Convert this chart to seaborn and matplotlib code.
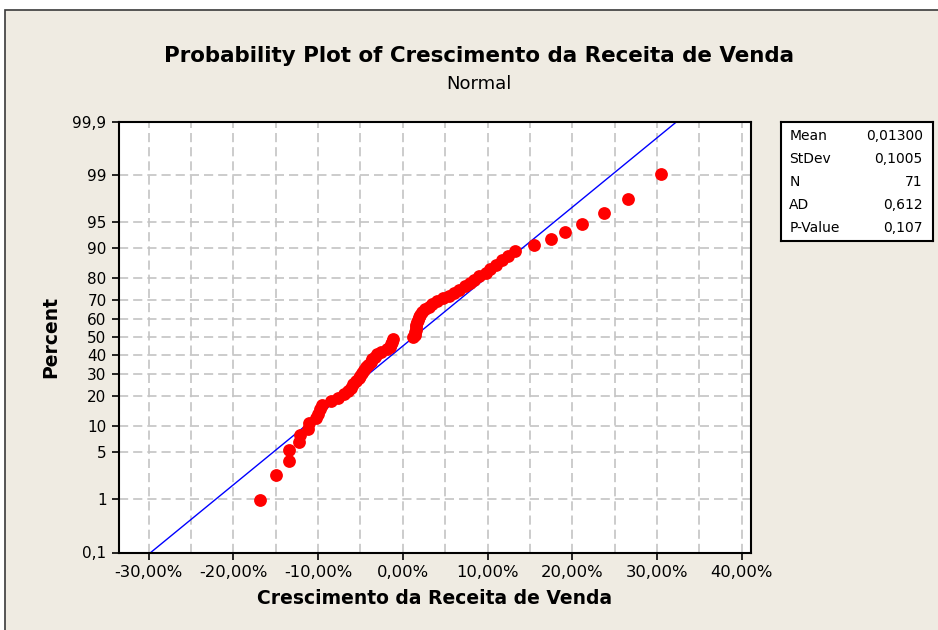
import numpy as np
import pandas as pd
import matplotlib
matplotlib.use("Agg")
import matplotlib.pyplot as plt
import seaborn as sns
from statistics import NormalDist
from matplotlib.patches import Rectangle
from matplotlib.ticker import FixedLocator, MultipleLocator, FuncFormatter

# crescimento da receita (fração), em ordem
crescimento = [
    -0.168, -0.150, -0.134, -0.134, -0.122, -0.121, -0.112, -0.111, -0.102, -0.100,
    -0.098, -0.095, -0.085, -0.077, -0.070, -0.065, -0.061, -0.059, -0.055, -0.052,
    -0.050, -0.048, -0.046, -0.044, -0.041, -0.038, -0.036, -0.033, -0.031, -0.026,
    -0.019, -0.015, -0.014, -0.013, -0.012,
    0.012, 0.014, 0.014, 0.015, 0.016, 0.016, 0.017, 0.018, 0.019, 0.020,
    0.023, 0.026, 0.031, 0.035, 0.040, 0.048, 0.055, 0.060, 0.066, 0.074,
    0.079, 0.084, 0.090, 0.098, 0.103, 0.110, 0.117, 0.124, 0.132,
    0.155, 0.175, 0.192, 0.212, 0.237, 0.266, 0.305,
]
media = 0.013
desvio = 0.1005

percent_ticks = [0.1, 1, 5, 10, 20, 30, 40, 50, 60, 70, 80, 90, 95, 99, 99.9]
percent_labels = ["0,1", "1", "5", "10", "20", "30", "40", "50", "60", "70",
                  "80", "90", "95", "99", "99,9"]
x_ticks = [-0.3, -0.2, -0.1, 0.0, 0.1, 0.2, 0.3, 0.4]

stats_nomes = ["Mean", "StDev", "N", "AD", "P-Value"]
stats_valores = ["0,01300", "0,1005", "71", "0,612", "0,107"]

nd = NormalDist()


def probit(p):
    p = np.clip(np.asarray(p, dtype=float), 1e-9, 100 - 1e-9)
    return np.vectorize(lambda v: nd.inv_cdf(v / 100), otypes=[float])(p)


def probit_inv(z):
    z = np.asarray(z, dtype=float)
    return np.vectorize(lambda v: nd.cdf(v) * 100, otypes=[float])(z)


x = np.sort(np.array(crescimento))
n = len(x)
rank = np.arange(1, n + 1)
pct = (rank - 0.3) / (n + 0.4) * 100  # median ranks
df = pd.DataFrame({"valor": x, "percent": pct})

p_linha = np.array([0.1, 99.9])
df_linha = pd.DataFrame({"valor": media + desvio * probit(p_linha), "percent": p_linha})

sns.set_theme(style="white")
plt.rcParams["font.family"] = ["DejaVu Sans"]
plt.rcParams["text.color"] = "black"
plt.rcParams["axes.labelcolor"] = "black"
plt.rcParams["xtick.color"] = "black"
plt.rcParams["ytick.color"] = "black"

fig = plt.figure(figsize=(9.38, 6.3), dpi=100, facecolor="white")
fig.patches.append(Rectangle((5 / 938, -0.05), 1.1, 0.05 + 620 / 630,
                             transform=fig.transFigure, facecolor="#EFEBE2",
                             edgecolor="#3A3A3A", linewidth=1.2, zorder=-5))

ax = fig.add_axes([119 / 938, 77.5 / 630, 632 / 938, 431 / 630])
ax.set_facecolor("white")
ax.set_yscale("function", functions=(probit, probit_inv))

sns.lineplot(data=df_linha, x="valor", y="percent", color="#0000FF",
             linewidth=1.0, sort=False, estimator=None, ax=ax, zorder=2)
sns.scatterplot(data=df, x="valor", y="percent", color="#FF0000", s=85,
                linewidth=0, ax=ax, zorder=3)

ax.set_xlim(-0.335, 0.411)
ax.set_ylim(0.1, 99.9)
ax.yaxis.set_major_locator(FixedLocator(percent_ticks))
ax.set_yticklabels(percent_labels)
ax.xaxis.set_major_locator(FixedLocator(x_ticks))
ax.xaxis.set_minor_locator(MultipleLocator(0.05))
ax.xaxis.set_major_formatter(FuncFormatter(lambda v, _: f"{v * 100:.2f}%".replace(".", ",")))

grid_kw = dict(color="#C4C4C4", linewidth=1.2, linestyle=(0, (5.5, 3)))
ax.grid(True, which="major", axis="y", **grid_kw)
ax.grid(True, which="both", axis="x", **grid_kw)
ax.set_axisbelow(True)

ax.tick_params(which="major", direction="out", length=5, width=1.2, color="black",
               pad=4, bottom=True, left=True)
ax.tick_params(axis="x", which="major", labelsize=11.8)
ax.tick_params(axis="y", which="major", labelsize=11)
ax.tick_params(which="minor", length=0)
for s in ax.spines.values():
    s.set_color("black")
    s.set_linewidth(1.5)

ax.set_xlabel("Crescimento da Receita de Venda", fontsize=13.5, fontweight="bold")
ax.xaxis.set_label_coords(0.5, -0.085)
ax.set_ylabel("Percent", fontsize=13.5, fontweight="bold")
ax.yaxis.set_label_coords((51 - 119) / 632, 0.5)
ax.yaxis.label.set_va("center")

fig.text(479 / 938, 1 - 62 / 630, "Probability Plot of Crescimento da Receita de Venda",
         ha="center", va="baseline", fontsize=15.4, fontweight="bold")
fig.text(479 / 938, 1 - 89 / 630, "Normal", ha="center", va="baseline", fontsize=13)

# caixa de estatísticas
box = fig.add_axes([781 / 938, (630 - 241) / 630, 152 / 938, 119.3 / 630])
box.set_facecolor("white")
box.set_xticks([])
box.set_yticks([])
for s in box.spines.values():
    s.set_color("black")
    s.set_linewidth(1.5)
for k, (nome, valor) in enumerate(zip(stats_nomes, stats_valores)):
    yy = (241 - (136.3 + 23 * k)) / 119.3
    box.text(0.055, yy, nome, ha="left", va="center", fontsize=10, transform=box.transAxes)
    box.text(0.932, yy, valor, ha="right", va="center", fontsize=10, transform=box.transAxes)

fig.savefig("out.png", dpi=100)
